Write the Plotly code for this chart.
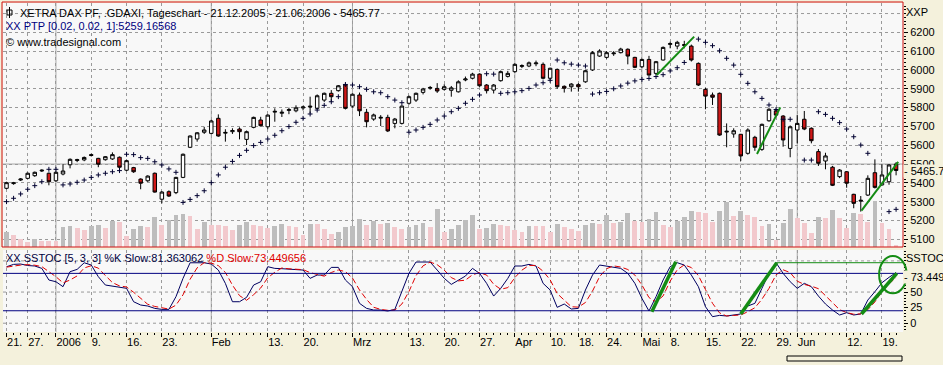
import pandas as pd
import plotly.graph_objects as go

# ---------------- data ----------------
holidays = ["2005-12-26", "2006-04-14", "2006-04-17", "2006-05-01"]
dates = [d for d in pd.bdate_range("2005-12-21", "2006-06-21") if d.strftime("%Y-%m-%d") not in holidays]
date_str = [d.strftime("%Y-%m-%d") for d in dates]
pos = {s: i for i, s in enumerate(date_str)}
xi = list(range(len(dates)))

opens = [5371, 5396, 5415, 5424, 5438, 5463, 5451, 5411, 5447, 5496, 5519, 5522, 5550, 5530, 5523, 5527, 5536, 5467, 5481, 5420,
         5411, 5451, 5313, 5353, 5348, 5429, 5589, 5633, 5669, 5663, 5743, 5664, 5672, 5686, 5631, 5695, 5734, 5698, 5776, 5770,
         5785, 5783, 5798, 5803, 5796, 5840, 5876, 5890, 5920, 5808, 5867, 5775, 5739, 5744, 5748, 5716, 5716, 5823, 5840, 5881,
         5903, 5902, 5897, 5892, 5884, 5947, 5956, 5978, 5920, 5893, 5943, 5966, 5991, 6019, 6021, 6033, 6030, 5956, 6003, 5913,
         5911, 5922, 5937, 6000, 6074, 6067, 6086, 6092, 6110, 6067, 6017, 6056, 5982, 6053, 6136, 6127, 6135, 6127, 6035, 5897,
         5867, 5876, 5670, 5660, 5658, 5557, 5642, 5578, 5730, 5783, 5755, 5583, 5681, 5738, 5690, 5566, 5516, 5483, 5433, 5459,
         5339, 5303, 5335, 5454, 5389, 5406, 5500]
highs = [5406, 5405, 5425, 5455, 5460, 5472, 5455, 5460, 5499, 5530, 5528, 5540, 5555, 5533, 5542, 5562, 5540, 5522, 5485, 5424,
         5440, 5455, 5356, 5360, 5432, 5556, 5652, 5670, 5698, 5735, 5764, 5685, 5690, 5695, 5678, 5752, 5751, 5765, 5796, 5790,
         5800, 5812, 5810, 5858, 5870, 5880, 5893, 5920, 5928, 5875, 5880, 5793, 5768, 5760, 5762, 5745, 5812, 5864, 5880, 5905,
         5915, 5930, 5924, 5915, 5945, 5965, 5985, 5982, 5925, 5925, 5997, 5995, 6035, 6030, 6045, 6050, 6040, 6012, 6008, 5918,
         5930, 5930, 6000, 6100, 6110, 6100, 6100, 6118, 6115, 6070, 6060, 6075, 6048, 6125, 6150, 6155, 6155, 6135, 6040, 5905,
         5880, 5880, 5716, 5690, 5660, 5690, 5650, 5715, 5797, 5795, 5760, 5705, 5760, 5782, 5695, 5580, 5560, 5490, 5473, 5462,
         5342, 5330, 5440, 5525, 5499, 5500, 5510]
lows = [5366, 5390, 5410, 5420, 5432, 5458, 5387, 5405, 5440, 5477, 5510, 5515, 5540, 5483, 5518, 5522, 5459, 5462, 5453, 5366,
        5405, 5348, 5291, 5325, 5340, 5425, 5585, 5619, 5660, 5658, 5645, 5619, 5660, 5631, 5601, 5690, 5699, 5685, 5725, 5750,
        5765, 5775, 5785, 5770, 5790, 5830, 5831, 5885, 5790, 5800, 5755, 5695, 5730, 5702, 5670, 5690, 5710, 5815, 5830, 5870,
        5895, 5878, 5890, 5858, 5880, 5940, 5950, 5910, 5875, 5875, 5938, 5960, 5985, 6010, 6015, 6020, 5950, 5945, 5900, 5880,
        5885, 5885, 5932, 5995, 6070, 6060, 6075, 6088, 6030, 6010, 6010, 5970, 5975, 6050, 6115, 6110, 6115, 6045, 5915, 5791,
        5814, 5650, 5589, 5640, 5516, 5550, 5570, 5570, 5725, 5750, 5592, 5536, 5610, 5680, 5610, 5490, 5472, 5383, 5425, 5374,
        5265, 5247, 5330, 5370, 5385, 5390, 5440]
closes = [5401, 5400, 5420, 5451, 5456, 5467, 5406, 5456, 5463, 5525, 5523, 5535, 5546, 5499, 5539, 5550, 5483, 5518, 5459, 5398,
          5436, 5351, 5351, 5330, 5429, 5552, 5649, 5666, 5681, 5729, 5649, 5668, 5678, 5672, 5672, 5748, 5704, 5760, 5780, 5775,
          5789, 5799, 5803, 5807, 5863, 5876, 5858, 5916, 5796, 5871, 5783, 5725, 5761, 5748, 5676, 5739, 5808, 5858, 5876, 5899,
          5907, 5888, 5911, 5905, 5937, 5952, 5978, 5916, 5890, 5920, 5991, 5982, 6030, 6023, 6038, 6037, 5956, 6009, 5911, 5903,
          5925, 5911, 5996, 6092, 6101, 6092, 6090, 6111, 6074, 6014, 6056, 5973, 6044, 6120, 6140, 6147, 6131, 6053, 5920, 5861,
          5855, 5654, 5674, 5677, 5543, 5681, 5589, 5711, 5791, 5760, 5628, 5698, 5716, 5686, 5624, 5504, 5543, 5387, 5468, 5398,
          5291, 5307, 5424, 5376, 5442, 5495, 5465.77]
sar = [5300, 5318, 5341, 5366, 5385, 5406, 5472, 5472, 5389, 5394, 5403, 5415, 5429, 5442, 5451, 5459, 5465, 5552, 5550, 5534,
       5530, 5512, 5495, 5474, 5456, 5296, 5312, 5332, 5358, 5401, 5442, 5483, 5514, 5546, 5573, 5598, 5615, 5633, 5653, 5677,
       5699, 5722, 5743, 5766, 5787, 5812, 5831, 5858, 5923, 5920, 5911, 5897, 5884, 5879, 5858, 5840, 5826, 5669, 5681, 5695,
       5711, 5734, 5755, 5778, 5796, 5823, 5844, 5867, 5980, 5978, 5876, 5879, 5884, 5890, 5902, 5920, 5932, 5945, 6053, 6038,
       6031, 6026, 6021, 5872, 5879, 5886, 5900, 5915, 5930, 5942, 5950, 5955, 5965, 5975, 5995, 6012, 6040, None, 6164, 6147,
       6129, 6102, 6062, 6026, 5977, 5929, 5884, 5849, 5814, 5790, 5738, 5738, None, 5521, 5521, 5778, 5764, 5743, 5720, 5686,
       5645, 5601, 5557, None, None, 5247, 5259.17]
volume = [31, 24, 16, 11, 16, 13, 13, 13, 41, 42, 39, 34, 43, 44, 39, 53, 51, 22, 37, 43,
          41, 60, 44, 54, 64, 67, 62, 37, 51, 44, 44, 42, 34, 44, 51, 44, 42, 39, 42, 47,
          42, 41, 24, 46, 46, 36, 27, 31, 40, 42, 57, 44, 52, 47, 48, 40, 36, 40, 44, 48,
          40, 77, 30, 37, 45, 54, 64, 36, 39, 47, 45, 42, 34, 30, 42, 42, 42, 30, 47, 40,
          36, 32, 44, 49, 46, 65, 49, 51, 69, 53, 51, 56, 71, 44, 41, 53, 61, 72, 70, 69,
          51, 72, 91, 62, 72, 64, 61, 42, 47, 15, 49, 76, 59, 49, 29, 61, 59, 74, 59, 39,
          69, 67, 51, 93, 49, 36, 5]
stoch_k = [90.6, 94.4, 95.0, 92.6, 91.8, 88.0, 69.3, 66.6, 58.6, 82.7, 86.4, 97.0, 93.4, 74.7, 61.3, 59.7, 58.6, 56.0, 34.5, 29.2,
           27.6, 23.8, 22.2, 22.2, 42.6, 72.0, 97.0, 97.6, 97.0, 95.0, 85.3, 63.9, 34.5, 34.5, 41.5, 61.3, 66.6, 90.7, 88.0, 87.5,
           86.4, 86.4, 85.3, 72.0, 77.3, 77.3, 89.6, 89.6, 69.3, 58.6, 31.9, 23.8, 21.2, 21.2, 19.6, 22.2, 50.6, 80.0, 98.2, 98.2,
           98.2, 85.3, 72.0, 62.3, 69.3, 75.7, 88.0, 80.0, 64.0, 43.6, 55.9, 71.9, 91.8, 91.8, 94.4, 91.8, 64.0, 53.3, 25.5, 30.8,
           22.8, 23.8, 53.3, 77.3, 93.4, 91.8, 90.7, 88.0, 80.0, 64.0, 39.9, 19.6, 42.6, 69.3, 90.7, 97.1, 93.4, 77.3, 58.6, 26.5,
           10.5, 12.6, 11.6, 13.2, 14.8, 27.6, 31.9, 56.0, 80.0, 97.1, 80.0, 66.6, 56.0, 64.0, 58.6, 43.6, 30.8, 21.2, 13.2, 16.9,
           13.2, 14.8, 37.2, 50.6, 65.0, 73.6, 81.363062]
stoch_d = [90.0, 92.0, 93.3, 94.0, 93.1, 90.8, 83.0, 74.6, 64.8, 69.3, 75.9, 88.7, 92.3, 88.4, 76.5, 65.2, 59.9, 58.1, 49.7, 39.9,
           30.4, 26.9, 24.5, 22.7, 29.0, 45.6, 70.5, 88.9, 97.2, 96.5, 92.4, 81.4, 61.2, 44.3, 36.8, 45.8, 56.5, 72.9, 81.8, 88.7,
           87.3, 86.8, 86.0, 81.2, 78.2, 75.5, 81.4, 85.5, 82.8, 72.5, 53.3, 38.1, 25.6, 22.1, 20.7, 21.0, 30.8, 50.9, 76.3, 92.1,
           98.2, 93.9, 85.2, 73.2, 67.9, 69.1, 77.7, 81.2, 77.3, 62.5, 54.5, 57.1, 73.2, 85.2, 92.7, 92.7, 83.4, 69.7, 47.6, 36.5,
           26.4, 25.8, 33.3, 51.5, 74.7, 87.5, 92.0, 90.2, 86.2, 77.3, 61.3, 41.2, 34.0, 43.8, 67.5, 85.7, 93.7, 89.3, 76.4, 54.1,
           31.9, 16.5, 11.6, 12.5, 13.2, 18.5, 24.8, 38.5, 55.9, 77.7, 85.7, 81.2, 67.5, 62.2, 59.5, 55.4, 44.3, 31.9, 21.7, 17.1,
           14.4, 15.0, 21.7, 34.2, 50.9, 63.1, 73.449656]

tick_dates = ["2005-12-21", "2005-12-27", "2006-01-02", "2006-01-09", "2006-01-16", "2006-01-23", "2006-02-01",
              "2006-02-13", "2006-02-20", "2006-03-01", "2006-03-13", "2006-03-20", "2006-03-27", "2006-04-03",
              "2006-04-10", "2006-04-18", "2006-04-24", "2006-05-02", "2006-05-08", "2006-05-15", "2006-05-22",
              "2006-05-29", "2006-06-01", "2006-06-12", "2006-06-19"]
tick_labels = ["21.", "27.", "2006", "9.", "16.", "23.", "Feb", "13.", "20.", "Mrz", "13.", "20.", "27.", "Apr",
               "10.", "18.", "24.", "Mai", "8.", "15.", "22.", "29.", "Jun", "12.", "19."]
month_starts = ["2006-01-02", "2006-02-01", "2006-03-01", "2006-04-03", "2006-05-02", "2006-06-01"]
price_ticks = [5100, 5200, 5300, 5400, 5500, 5600, 5700, 5800, 5900, 6000, 6100, 6200]
stoch_ticks = [0, 25, 50]
stoch_levels = [20, 80]
stoch_grid = [0, 50, 100]
# hand-drawn green trend lines: (x0 index, value0, x1 index, value1)
price_trendlines = [(92.1, 5973, 97.4, 6177), (106.3, 5553, 109.6, 5801), (121.1, 5252, 126.3, 5512)]
stoch_trendlines = [(91.4, 18.5, 94.8, 98.7), (104.0, 14.8, 109.1, 97.1), (121.1, 14.8, 126.1, 80.1)]

# ---------------- geometry ----------------
W, H = 943, 365
ML, MR, MT, MB = 3, 40, 3, 33
PW, PH = W - ML - MR, H - MT - MB
X_RANGE = [-0.5, 126.98]
Y_RANGE = [5059, 6356]
V_RANGE = [0, 488]
S_RANGE = [-14.1, 117.5]
MAIN_DOM = [(332 - 247) / PH, 1.0]
STO_DOM = [0.0, (332 - 250) / PH]


def px(x):
    return (x - ML) / PW


def py(y):
    return (H - MB - y) / PH


def xp(i):
    return (i - X_RANGE[0]) / (X_RANGE[1] - X_RANGE[0])


def sp(v):
    return STO_DOM[0] + (STO_DOM[1] - STO_DOM[0]) * (v - S_RANGE[0]) / (S_RANGE[1] - S_RANGE[0])


BG = "#F4F1DC"
PLOT_BG = "#F8F8F8"
FONT = "Liberation Sans"

vol_colors = ["#BDBDBD" if (i == 0 or v > volume[i - 1]) else "#F2C9CD" for i, v in enumerate(volume)]

fig = go.Figure()
fig.add_trace(go.Bar(x=xi, y=volume, marker=dict(color=vol_colors, line=dict(width=0)), width=0.68,
                     xaxis="x", yaxis="y2", hoverinfo="skip"))
fig.add_trace(go.Candlestick(x=xi, open=opens, high=highs, low=lows, close=closes, xaxis="x", yaxis="y",
                             increasing=dict(line=dict(color="#000000", width=1), fillcolor="#FFFFFF"),
                             decreasing=dict(line=dict(color="#000000", width=1), fillcolor="#D01818"),
                             whiskerwidth=0))
fig.add_trace(go.Scatter(x=xi, y=sar, mode="markers", xaxis="x", yaxis="y",
                         marker=dict(symbol="cross-thin", size=3.5, line=dict(color="#000030", width=1))))
fig.add_trace(go.Scatter(x=xi, y=stoch_k, mode="lines", xaxis="x2", yaxis="y3",
                         line=dict(color="#000060", width=1)))
fig.add_trace(go.Scatter(x=xi, y=stoch_d, mode="lines", xaxis="x2", yaxis="y3",
                         line=dict(color="#E00000", width=1, dash="6px,3px")))

tickpos = [pos[d] for d in tick_dates]
grid = dict(showgrid=True, gridcolor="#9A9A9A", gridwidth=1, griddash="dot")

shapes = []
# month separators
for d in month_starts:
    for xr, yr in (("x", "y"), ("x2", "y3")):
        shapes.append(dict(type="line", xref=xr, yref=yr + " domain", x0=pos[d], x1=pos[d], y0=0, y1=1,
                           line=dict(color="#A8A8A8", width=1), layer="below"))
# 5500 solid line, 6300 dotted line
shapes.append(dict(type="line", xref="x domain", yref="y", x0=0, x1=1, y0=5500, y1=5500,
                   line=dict(color="#A8A8A8", width=1), layer="below"))
shapes.append(dict(type="line", xref="x domain", yref="y", x0=0, x1=1, y0=6300, y1=6300,
                   line=dict(color="#9A9A9A", width=1, dash="dot"), layer="below"))
for v in stoch_grid:
    shapes.append(dict(type="line", xref="x2 domain", yref="y3", x0=0, x1=1, y0=v, y1=v,
                       line=dict(color="#9A9A9A", width=1, dash="dot"), layer="below"))
for v in stoch_levels:
    shapes.append(dict(type="line", xref="x2 domain", yref="y3", x0=0, x1=1, y0=v, y1=v,
                       line=dict(color="#000080", width=1)))
for (a, b, c, d) in price_trendlines:
    shapes.append(dict(type="line", xref="x", yref="y", x0=a, y0=b, x1=c, y1=d,
                       line=dict(color="#148C14", width=2)))
for (a, b, c, d) in stoch_trendlines:
    shapes.append(dict(type="line", xref="paper", yref="paper", x0=xp(a), y0=sp(b), x1=xp(c), y1=sp(d),
                       line=dict(color="#148C14", width=3.5)))
top = stoch_trendlines[1]
shapes.append(dict(type="line", xref="paper", yref="paper", x0=xp(top[2]), y0=sp(top[3]), x1=1.0, y1=sp(top[3]),
                   line=dict(color="#148C14", width=1)))
shapes.append(dict(type="circle", xref="paper", yref="paper", x0=xp(123.6), x1=xp(127.5), y0=sp(48), y1=sp(107.9),
                   line=dict(color="#148C14", width=2)))
# red frame around price panel
shapes.append(dict(type="rect", xref="paper", yref="paper", x0=px(2), x1=px(903), y0=MAIN_DOM[0], y1=1.0 + 1 / PH,
                   line=dict(color="#D01010", width=1)))
# title icon
shapes.append(dict(type="rect", xref="paper", yref="paper", x0=px(7), x1=px(12), y0=py(15), y1=py(10),
                   line=dict(color="#000000", width=1)))
shapes.append(dict(type="line", xref="paper", yref="paper", x0=px(9.5), x1=px(9.5), y0=py(18), y1=py(7),
                   line=dict(color="#000000", width=1)))
# scroll box bottom right
shapes.append(dict(type="rect", xref="paper", yref="paper", x0=px(787), x1=px(902), y0=py(361), y1=py(356),
                   line=dict(color="#000000", width=1), fillcolor=BG))

ann_font = dict(family=FONT, size=11, color="#000000")
annotations = [
    dict(x=px(19), y=py(13), text="XETRA DAX PF, .GDAXI, Tageschart - 21.12.2005 - 21.06.2006 - 5465.77"),
    dict(x=px(5), y=py(26), text="XX PTP [0.02, 0.02, 1]:5259.16568", font=dict(family=FONT, size=11, color="#000080")),
    dict(x=px(5), y=py(42), text="© www.tradesignal.com"),
    dict(x=px(5), y=py(258), text="XX SSTOC [5, 3, 3] %K Slow:81.363062 "
                                  "<span style='color:#E00000'>%D Slow:73.449656</span>",
         font=dict(family=FONT, size=11, color="#000040")),
    dict(x=px(905), y=py(12), text="XXP"),
    dict(x=px(905), y=py(258), text="SSTOC"),
    dict(x=px(903), y=py(170.5), text="- 5465.7", bgcolor=BG),
    dict(x=px(903), y=sp(stoch_d[-1]), text="- 73.449", bgcolor=BG),
]
for a in annotations:
    a.setdefault("font", ann_font)
    a.update(xref="paper", yref="paper", xanchor="left", yanchor="middle", showarrow=False, borderpad=0)

fig.update_layout(
    width=W, height=H, margin=dict(l=ML, r=MR, t=MT, b=MB, autoexpand=False),
    paper_bgcolor=BG, plot_bgcolor=PLOT_BG, showlegend=False, bargap=0, hovermode=False,
    font=dict(family=FONT, size=11, color="#000000"),
    xaxis=dict(domain=[0, 1], anchor="y", range=X_RANGE, tickvals=tickpos, showticklabels=False, ticks="",
               rangeslider=dict(visible=False), zeroline=False, showline=False, automargin=False, **grid),
    xaxis2=dict(domain=[0, 1], anchor="y3", range=X_RANGE, tickvals=tickpos, ticktext=tick_labels,
                ticks="outside", ticklen=4, tickcolor="#000000", ticklabelposition="outside right", tickangle=0,
                minor=dict(tickvals=xi, ticks="outside", ticklen=2, tickcolor="#000000", showgrid=False),
                zeroline=False, showline=False, matches="x", automargin=False, **grid),
    yaxis=dict(domain=MAIN_DOM, anchor="x", side="right", range=Y_RANGE, tickvals=price_ticks,
               ticktext=[str(v) for v in price_ticks], ticks="outside", ticklen=4, tickcolor="#000000",
               minor=dict(dtick=20, tick0=5100, ticks="outside", ticklen=2, tickcolor="#000000", showgrid=False),
               zeroline=False, showline=False, automargin=False, **grid),
    yaxis2=dict(domain=MAIN_DOM, anchor="x", overlaying="y", range=V_RANGE, visible=False),
    yaxis3=dict(domain=STO_DOM, anchor="x2", side="right", range=S_RANGE, tickvals=stoch_ticks,
                ticktext=[str(v) for v in stoch_ticks], ticks="outside", ticklen=4, tickcolor="#000000",
                minor=dict(dtick=5, tick0=0, ticks="outside", ticklen=2, tickcolor="#000000", showgrid=False),
                showgrid=False, zeroline=False, showline=False, automargin=False),
    shapes=shapes, annotations=annotations,
)

fig.write_html("out.html", config={"displayModeBar": False},
               post_script="document.body.style.margin='0';document.body.style.padding='0';"
                           "document.body.style.overflow='hidden';")
